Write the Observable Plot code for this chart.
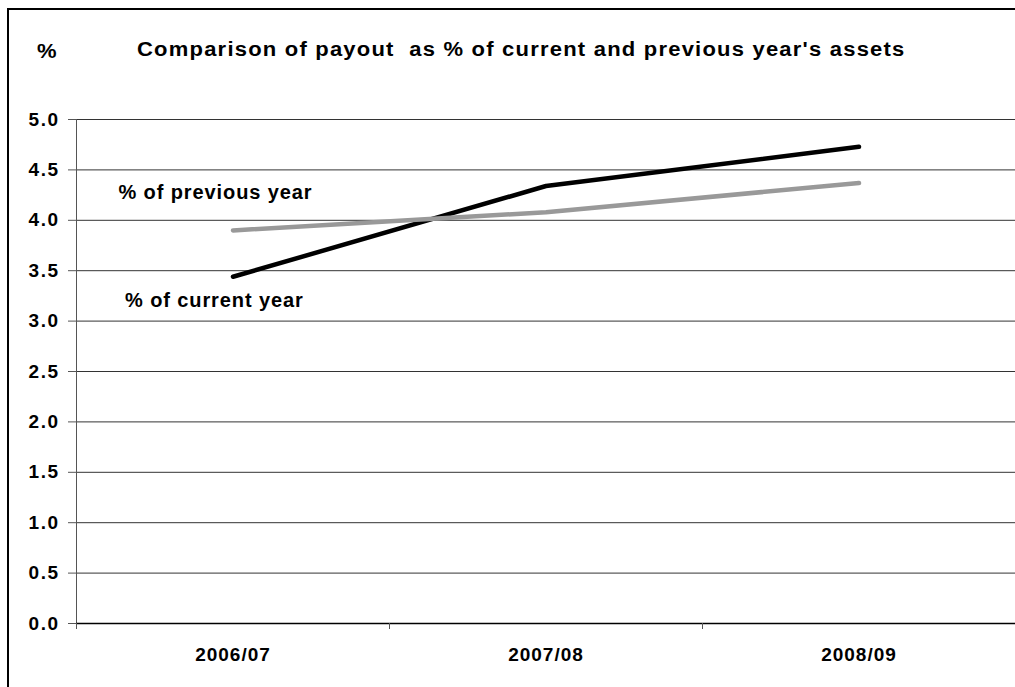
<!DOCTYPE html>
<html>
<head>
<meta charset="utf-8">
<script src="https://cdn.jsdelivr.net/npm/d3@7"></script>
<script src="https://cdn.jsdelivr.net/npm/@observablehq/plot@0.6"></script>
<style>
  html, body { margin: 0; padding: 0; background: #fff; overflow: hidden; }
  #wrap { position: relative; width: 1015px; height: 687px; font-family: "Liberation Sans", Arial, sans-serif; }
  #frame { position: absolute; left: 7px; top: 8px; width: 1030px; height: 700px; border: 2px solid #000; box-sizing: border-box; }
  #title { position: absolute; left: 137px; top: 38px; font-size: 20px; font-weight: bold; white-space: pre; letter-spacing: 1.1px; transform: scaleX(1.1); transform-origin: left top; }
  #unit { position: absolute; left: 37px; top: 40px; font-size: 20px; font-weight: bold; transform: scaleX(1.1); transform-origin: left top; }
  #chart { position: absolute; left: 0; top: 0; }
  #chart g[aria-label="y-axis tick label"] text { letter-spacing: 1.5px; }
  #chart g[aria-label="x-axis tick label"] text { letter-spacing: 1px; }
  #chart g[aria-label="text"] text { letter-spacing: 0.9px; }
</style>
</head>
<body>
<div id="wrap">
  <div id="frame"></div>
  <div id="chart"></div>
  <div id="unit">%</div>
  <div id="title">Comparison of payout  as % of current and previous year's assets</div>
</div>
<script>
const categories = ["2006/07", "2007/08", "2008/09"];
const currentYear = [3.44, 4.34, 4.73];
const previousYear = [3.90, 4.08, 4.37];
const yTicks = [0, 0.5, 1, 1.5, 2, 2.5, 3, 3.5, 4, 4.5, 5];
const seriesNames = ["% of current year", "% of previous year"];
const seriesColors = ["#000000", "#999999"];
const labelX = [-0.345, -0.366];
const labelY = [3.2, 4.27];

const data = [];
categories.forEach((c, i) => {
  data.push({i, series: seriesNames[0], value: currentYear[i]});
  data.push({i, series: seriesNames[1], value: previousYear[i]});
});
const boundaries = d3.range(categories.length + 1).map(k => k - 0.5);
const labels = seriesNames.map((s, k) => ({s, x: labelX[k], y: labelY[k]}));

const chart = Plot.plot({
  width: 1015,
  height: 687,
  marginLeft: 76,
  marginRight: 0,
  marginTop: 119,
  marginBottom: 64,
  style: {fontFamily: "'Liberation Sans', Arial, sans-serif", background: "transparent", color: "#000"},
  x: {domain: [-0.5, categories.length - 0.5]},
  y: {domain: [0, 5]},
  color: {domain: seriesNames, range: seriesColors},
  marks: [
    Plot.ruleY(yTicks.filter(t => t > 0), {stroke: "#333", strokeWidth: 1, strokeOpacity: 1}),
    Plot.ruleX([boundaries[0]], {stroke: "#555", strokeWidth: 1}),
    Plot.ruleY([0], {stroke: "#000", strokeWidth: 1.5}),
    Plot.axisY({ticks: yTicks, tickFormat: d3.format(".1f"), tickSize: 8, tickPadding: 9, fontSize: 19, fontWeight: "bold", stroke: "#555", strokeOpacity: 1, label: null}),
    Plot.axisX({ticks: boundaries, tickFormat: () => "", tickSize: 6, stroke: "#555", strokeOpacity: 1, label: null}),
    Plot.axisX({ticks: d3.range(categories.length), tickFormat: i => categories[i], tickSize: 0, tickPadding: 24, fontSize: 19, fontWeight: "bold", label: null}),
    Plot.line(data, {x: "i", y: "value", z: "series", stroke: "series", strokeWidth: 4.5, strokeLinecap: "round", strokeLinejoin: "round"}),
    Plot.text(labels, {x: "x", y: "y", text: "s", textAnchor: "start", fontSize: 20, fontWeight: "bold", fill: "#000"})
  ]
});
document.getElementById("chart").appendChild(chart);
</script>
</body>
</html>
